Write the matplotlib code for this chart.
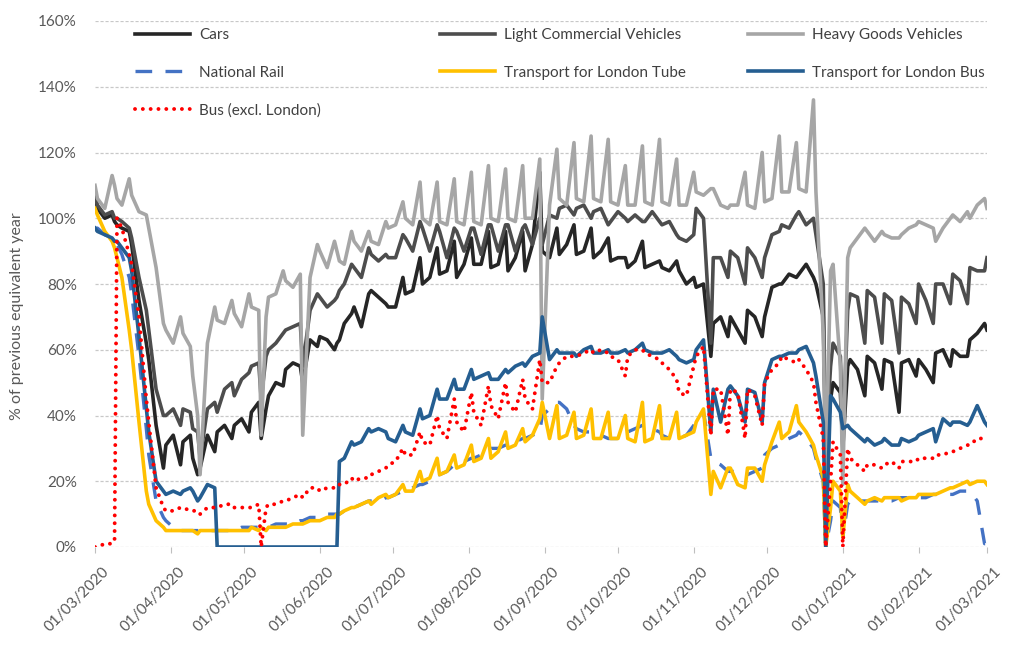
import matplotlib
matplotlib.use("Agg")
import matplotlib.pyplot as plt
import matplotlib.dates as mdates
import matplotlib.transforms as mtransforms
from matplotlib.ticker import FuncFormatter
from matplotlib.legend import Legend
import pandas as pd

plt.rcParams['font.family'] = ['Lato', 'DejaVu Sans']

# ---------------- data (day offsets from 01/03/2020, one row per week) ----------------
day_offsets = [
    0, 1, 4,
    7, 8, 9, 11,
    14, 15, 18,
    21, 22, 25,
    28, 29, 32,
    35, 36, 39, 40,
    42, 43, 46,
    49, 50, 53,
    56, 57, 60,
    63, 64, 67, 68,
    70, 71, 74,
    77, 78, 81,
    84, 85, 88,
    91, 92, 95,
    98, 99, 100, 102,
    105, 106, 109,
    112, 113, 116,
    119, 120, 123,
    126, 127, 130,
    133, 134, 137,
    140, 141, 144,
    147, 148, 151,
    154, 155, 158,
    161, 162, 165,
    168, 169, 172,
    175, 176, 179,
    182, 183, 186,
    189, 190, 193,
    196, 197, 200,
    203, 204, 207,
    210, 211, 214,
    217, 218, 221,
    224, 225, 228,
    231, 232, 235,
    238, 239, 242,
    245, 246, 249,
    252, 253, 256,
    259, 260, 263,
    266, 267, 270,
    273, 274, 277,
    280, 281, 284,
    287, 288, 291,
    294, 295, 298, 299,
    301, 302, 305, 306,
    308, 309, 312,
    315, 316, 319,
    322, 323, 326,
    329, 330, 333,
    336, 337, 340,
    343, 344, 347,
    350, 351, 354,
    357, 358, 361,
    364, 365,
]

cars = [
    108, 103, 100,
    101, 99, 98, 97,
    96, 92, 75,
    62, 57, 37,
    24, 31, 34,
    25, 32, 34, 27,
    22, 24, 34,
    29, 35, 37,
    33, 37, 39,
    35, 41, 44, 33,
    42, 46, 50,
    49, 54, 56,
    55, 50, 63,
    61, 64, 63,
    60, 62, 63, 68,
    71, 73, 67,
    77, 78, 76,
    74, 73, 73,
    82, 77, 78,
    88, 80, 82,
    91, 83, 84,
    93, 82, 86,
    94, 86, 86,
    96, 85, 86,
    96, 84, 88,
    96, 84, 92,
    114, 90, 88,
    97, 89, 92,
    98, 89, 90,
    97, 88, 90,
    94, 87, 88,
    88, 85, 87,
    93, 85, 86,
    87, 85, 84,
    87, 84, 80,
    82, 79, 80,
    58, 68, 70,
    64, 70, 66,
    62, 72, 70,
    64, 70, 79,
    80, 80, 83,
    82, 83, 86,
    82, 80, 70, 28,
    45, 50, 47, 30,
    55, 57, 54,
    46, 58, 56,
    48, 57, 56,
    41, 56, 57,
    52, 57, 54,
    50, 59, 60,
    55, 60, 58,
    58, 63, 65,
    68, 66,
]

lcv = [
    106, 104, 101,
    102, 100, 100, 99,
    97, 94, 82,
    72, 66, 48,
    40, 40, 42,
    37, 42, 41, 36,
    35, 27, 42,
    44, 41, 48,
    50, 46, 51,
    53, 55, 56, 45,
    58, 60, 62,
    65, 66, 67,
    68, 55, 72,
    77, 76, 73,
    75, 76, 78, 80,
    86, 85, 82,
    91, 89, 87,
    89, 88, 88,
    95, 94, 90,
    99, 97, 90,
    98, 96, 88,
    97, 96, 90,
    97, 97, 89,
    98, 98, 90,
    98, 98, 90,
    97, 98, 92,
    100, 92, 101,
    100, 103, 104,
    101, 103, 104,
    100, 102, 103,
    98, 99, 102,
    100, 99, 101,
    99, 99, 102,
    99, 98, 99,
    95, 94, 93,
    95, 103, 100,
    62, 88, 88,
    82, 90, 88,
    80, 91, 88,
    82, 88, 95,
    96, 98, 97,
    101, 102, 98,
    100, 95, 80, 30,
    55, 62, 58, 32,
    72, 77, 76,
    62, 78, 76,
    62, 77, 75,
    59, 76, 74,
    68, 80, 75,
    68, 80, 80,
    74, 83, 81,
    74, 85, 84,
    84, 88,
]

hgv = [
    110, 106, 103,
    113, 110, 106, 104,
    112, 107, 102,
    101, 97, 85,
    68, 66, 62,
    70, 65, 61, 52,
    40, 22, 62,
    73, 69, 68,
    75, 71, 67,
    77, 73, 72, 34,
    70, 76, 77,
    84, 81, 79,
    83, 34, 82,
    92, 90, 85,
    93, 90, 87, 86,
    96, 93, 90,
    96, 93, 92,
    99, 97, 98,
    105, 100, 98,
    111, 100, 98,
    111, 99, 98,
    112, 99, 98,
    114, 99, 98,
    116, 100, 99,
    115, 100, 99,
    116, 100, 100,
    118, 45, 104,
    121, 106, 104,
    123, 106, 105,
    125, 106, 105,
    124, 105, 104,
    116, 104, 104,
    122, 105, 104,
    124, 105, 104,
    118, 104, 104,
    114, 108, 107,
    109, 109, 104,
    103, 104, 104,
    114, 104, 103,
    120, 105, 106,
    125, 108, 108,
    123, 109, 108,
    136, 108, 65, 22,
    84, 86, 55, 19,
    88, 91, 94,
    97, 96, 93,
    96, 95, 94,
    94, 95, 97,
    98, 99, 98,
    97, 93, 97,
    100, 101, 99,
    102, 100, 104,
    106, 103,
]

national_rail = [
    97, 97, 95,
    94, 93, 92, 89,
    82, 77, 58,
    36, 28, 14,
    9, 8, 6,
    5, 5, 5, 5,
    5, 5, 5,
    5, 5, 5,
    5, 5, 6,
    6, 6, 6, 6,
    6, 6, 7,
    7, 7, 7,
    8, 8, 9,
    9, 9, 10,
    10, 10, 10, 11,
    12, 12, 13,
    14, 14, 14,
    15, 15, 16,
    17, 17, 18,
    19, 19, 20,
    22, 22, 23,
    25, 25, 26,
    27, 27, 28,
    29, 30, 30,
    31, 31, 32,
    33, 33, 34,
    35, 40, 42,
    44, 44, 42,
    37, 36, 35,
    35, 35, 34,
    33, 33, 33,
    34, 35, 36,
    37, 37, 36,
    35, 34, 33,
    33, 33, 34,
    37, 38, 41,
    27, 26, 25,
    23, 23, 23,
    22, 22, 23,
    24, 28, 30,
    31, 32, 33,
    34, 35, 33,
    30, 27, 20, 0,
    8, 14, 12, 3,
    13, 14, 14,
    14, 14, 14,
    14, 14, 14,
    15, 15, 15,
    15, 15, 15,
    16, 16, 16,
    16, 16, 17,
    17, 17, 14,
    1, 1,
]

tfl_tube = [
    103, 101, 96,
    93, 91, 88, 82,
    66, 60, 38,
    17, 13, 8,
    6, 5, 5,
    5, 5, 5, 5,
    4, 5, 5,
    5, 5, 5,
    5, 5, 5,
    5, 6, 5, 6,
    5, 6, 6,
    6, 6, 7,
    7, 7, 8,
    8, 8, 9,
    9, 10, 10, 11,
    12, 12, 13,
    14, 13, 15,
    16, 15, 16,
    19, 17, 17,
    23, 20, 21,
    27, 22, 23,
    28, 24, 25,
    31, 26, 27,
    33, 27, 29,
    35, 30, 31,
    36, 32, 34,
    39, 44, 33,
    43, 33, 34,
    41, 33, 34,
    42, 33, 33,
    41, 33, 33,
    40, 33, 32,
    44, 32, 33,
    43, 33, 33,
    41, 33, 34,
    35, 38, 42,
    16, 23, 18,
    24, 24, 19,
    18, 24, 24,
    20, 25, 32,
    38, 33, 35,
    43, 38, 35,
    31, 28, 21, 0,
    12, 20, 17, 3,
    19, 17, 15,
    13, 14, 15,
    14, 15, 15,
    15, 14, 15,
    15, 16, 16,
    16, 16, 17,
    18, 18, 19,
    20, 19, 20,
    20, 19,
]

tfl_bus = [
    97, 96, 95,
    94, 93, 93, 91,
    88, 84, 64,
    42, 35, 20,
    17, 16, 17,
    16, 17, 18, 17,
    14, 15, 19,
    18, 0, 0,
    0, 0, 0,
    0, 0, 0, 0,
    0, 0, 0,
    0, 0, 0,
    0, 0, 0,
    0, 0, 0,
    0, 0, 26, 27,
    32, 31, 32,
    36, 35, 36,
    35, 33, 32,
    37, 35, 34,
    42, 39, 40,
    48, 45, 45,
    51, 48, 48,
    54, 51, 52,
    53, 51, 51,
    54, 53, 55,
    56, 55, 58,
    59, 70, 57,
    60, 59, 59,
    59, 58, 60,
    61, 59, 59,
    60, 59, 59,
    60, 59, 60,
    62, 60, 59,
    59, 59, 60,
    58, 57, 56,
    57, 60, 63,
    35, 48, 38,
    48, 49, 46,
    38, 48, 47,
    38, 50, 57,
    58, 58, 59,
    59, 60, 61,
    56, 52, 38, 0,
    46, 45, 41, 36,
    37, 36, 34,
    32, 33, 31,
    32, 33, 31,
    31, 33, 32,
    33, 34, 35,
    36, 32, 39,
    37, 38, 38,
    37, 38, 43,
    38, 37,
]

bus_excl_london = [
    0, 0, 1,
    1, 2, 100, 97,
    89, 86, 70,
    45, 38, 18,
    12, 11, 11,
    12, 12, 11, 11,
    11, 10, 12,
    12, 12, 13,
    13, 12, 12,
    12, 12, 13, 0,
    12, 13, 13,
    14, 14, 15,
    16, 15, 18,
    18, 17, 18,
    18, 18, 19, 19,
    21, 20, 21,
    21, 22, 23,
    24, 25, 26,
    30, 28, 28,
    35, 32, 31,
    40, 36, 33,
    45, 38, 35,
    47, 41, 37,
    49, 43, 39,
    50, 44, 41,
    51, 45, 42,
    57, 50, 50,
    55, 56, 58,
    58, 58, 59,
    60, 59, 60,
    59, 58, 57,
    52, 58, 60,
    60, 59, 58,
    57, 56, 54,
    51, 47, 46,
    55, 58, 61,
    34, 48, 48,
    34, 48, 47,
    33, 48, 46,
    37, 50, 54,
    56, 58, 57,
    56, 57, 54,
    50, 44, 33, 0,
    20, 32, 28, 0,
    30, 27, 25,
    23, 25, 25,
    24, 25, 26,
    24, 26, 26,
    26, 27, 27,
    27, 28, 28,
    29, 29, 30,
    31, 31, 33,
    33, 32,
]

series_labels = ['Cars', 'Light Commercial Vehicles', 'Heavy Goods Vehicles',
                 'National Rail', 'Transport for London Tube',
                 'Transport for London Bus', 'Bus (excl. London)']
y_ticks = [0, 20, 40, 60, 80, 100, 120, 140, 160]
y_label = '% of previous equivalent year'

# ---------------- figure ----------------
start = pd.Timestamp('2020-03-01')
end = pd.Timestamp('2021-03-01')
dates = start + pd.to_timedelta(day_offsets, unit='D')

fig = plt.figure(figsize=(10.12, 6.48), dpi=100)
ax = fig.add_axes([95 / 1012, 1 - 547 / 648, 892 / 1012, 526 / 648])

styles = [
    dict(color='#262626', lw=2.6),
    dict(color='#4d4d4d', lw=2.6),
    dict(color='#a6a6a6', lw=2.6),
    dict(color='#4472c4', lw=2.4, dashes=(5, 4)),
    dict(color='#ffc000', lw=2.6),
    dict(color='#255e91', lw=2.6),
    dict(color='#ff0000', lw=2.8, linestyle=(0, (0.01, 2.0)), dash_capstyle='round'),
]
all_series = [cars, lcv, hgv, national_rail, tfl_tube, tfl_bus, bus_excl_london]
handles = []
for i, (vals, lab, st) in enumerate(zip(all_series, series_labels, styles)):
    ln, = ax.plot(dates, vals, label=lab, zorder=2 + i, solid_joinstyle='round', **st)
    handles.append(ln)

ax.set_xlim(start, end)
ax.set_ylim(0, 160)
ax.set_yticks(y_ticks)
ax.yaxis.set_major_formatter(FuncFormatter(lambda v, p: f'{v:.0f}%'))
ax.xaxis.set_major_locator(mdates.MonthLocator(bymonthday=1))
ax.xaxis.set_major_formatter(mdates.DateFormatter('%d/%m/%Y'))

for s in ax.spines.values():
    s.set_visible(False)
ax.yaxis.grid(True, color='#c8c8c8', linestyle=(0, (2.5, 1.5)), linewidth=0.9)
ax.set_axisbelow(True)

ax.tick_params(axis='y', length=0, pad=13, labelsize=11, labelcolor='#595959')
ax.tick_params(axis='x', direction='out', length=4, width=0.8, color='#bfbfbf',
               labelsize=11, labelcolor='#595959', pad=9)
shift = mtransforms.ScaledTranslation(7 / 100, 0, fig.dpi_scale_trans)
for lbl in ax.get_xticklabels():
    lbl.set_rotation(45)
    lbl.set_ha('right')
    lbl.set_va('top')
    lbl.set_rotation_mode('anchor')
    lbl.set_transform(lbl.get_transform() + shift)

fig.text(17 / 1012, 1 - 316 / 648, y_label, rotation=90, ha='center', va='center',
         fontsize=11.5, color='#595959')

# legend: three columns, placed like the reference
cols = [[0, 3, 6], [1, 4], [2, 5]]
col_x = [135, 440, 748]
for idxs, xpx in zip(cols, col_x):
    leg = Legend(ax, [handles[i] for i in idxs], [series_labels[i] for i in idxs],
                 loc='upper left', bbox_to_anchor=((xpx - 95) / 892, (547 - 28) / 526),
                 frameon=False, borderpad=0, borderaxespad=0, fontsize=11,
                 handlelength=3.6, handletextpad=0.6, labelspacing=1.55,
                 labelcolor='#404040')
    ax.add_artist(leg)

fig.savefig('out.png', dpi=100)
